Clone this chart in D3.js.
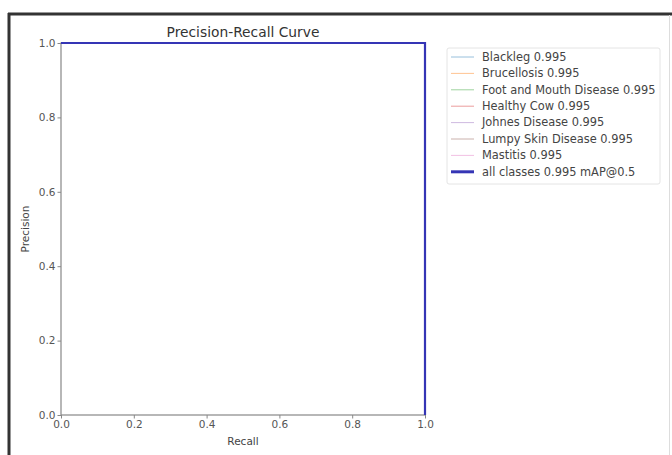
<!DOCTYPE html>
<html><head><meta charset="utf-8">
<script src="https://cdn.jsdelivr.net/npm/d3@7"></script>
<style>body{margin:0;background:#fff;} svg{display:block;font-family:"DejaVu Sans",sans-serif;} .tick text{font-size:10.5px;}</style>
</head><body>
<svg id="c" width="672" height="455"></svg>
<script>
const classes = ["Blackleg","Brucellosis","Foot and Mouth Disease","Healthy Cow","Johnes Disease","Lumpy Skin Disease","Mastitis"];
const classAP = [0.995,0.995,0.995,0.995,0.995,0.995,0.995];
const classColors = ["#1f77b4","#ff7f0e","#2ca02c","#d62728","#9467bd","#8c564b","#e377c2"];
const curveRecall = [0, 1, 1];
const curvePrecision = [1, 1, 0];
const mAP = 0.995;
const xTicks = [0,0.2,0.4,0.6,0.8,1.0];
const yTicks = [0,0.2,0.4,0.6,0.8,1.0];

const svg = d3.select("#c");
// outer frame
svg.append("line").attr("x1",8).attr("x2",672).attr("y1",14).attr("y2",14).attr("stroke","#333").attr("stroke-width",3);
svg.append("line").attr("x1",9).attr("x2",9).attr("y1",13).attr("y2",455).attr("stroke","#333").attr("stroke-width",3);
svg.append("line").attr("x1",669.5).attr("x2",669.5).attr("y1",15).attr("y2",455).attr("stroke","#ddd").attr("stroke-width",1);

const L=61,R=425,T=43,B=415;
const x = d3.scaleLinear().domain([0,1]).range([L,R]);
const y = d3.scaleLinear().domain([0,1]).range([B,T]);

const gx = svg.append("g").attr("transform",`translate(0,${B})`)
  .call(d3.axisBottom(x).tickValues(xTicks).tickFormat(d3.format(".1f")).tickSize(3.5).tickPadding(2));
const gy = svg.append("g").attr("transform",`translate(${L},0)`)
  .call(d3.axisLeft(y).tickValues(yTicks).tickFormat(d3.format(".1f")).tickSize(3.5).tickPadding(2));
[gx,gy].forEach(g=>{
  g.attr("font-size",10.5).attr("font-family","DejaVu Sans");
  g.select(".domain").remove();
  g.selectAll("line").attr("stroke","#888");
  g.selectAll("text").attr("fill","#555");
});
// spines
svg.append("rect").attr("x",L).attr("y",T).attr("width",R-L).attr("height",B-T)
  .attr("fill","none").attr("stroke","#888").attr("stroke-width",1.2);

const pts = curveRecall.map((r,i)=>[r,curvePrecision[i]]);
const line = d3.line().x(d=>x(d[0])).y(d=>y(d[1]));
classes.forEach((c,i)=>{
  svg.append("path").attr("d",line(pts)).attr("fill","none").attr("stroke",classColors[i]).attr("stroke-width",1).attr("opacity",0.4);
});
svg.append("path").attr("d",line(pts)).attr("fill","none").attr("stroke","#3535b5").attr("stroke-width",2.2);

svg.append("text").attr("x",(L+R)/2).attr("y",37).attr("text-anchor","middle").attr("fill","#333").style("font-size","13.8px").text("Precision-Recall Curve");
svg.append("text").attr("x",(L+R)/2).attr("y",445).attr("text-anchor","middle").attr("fill","#444").style("font-size","10.5px").text("Recall");
svg.append("text").attr("transform",`translate(29,${(T+B)/2}) rotate(-90)`).attr("text-anchor","middle").attr("fill","#444").style("font-size","10.5px").text("Precision");

// legend
const lg = svg.append("g");
lg.append("rect").attr("x",447).attr("y",48).attr("width",213).attr("height",136).attr("rx",2)
  .attr("fill","#fff").attr("stroke","#e4e4e4");
const rows = classes.map((c,i)=>({label:`${c} ${classAP[i].toFixed(3)}`,color:classColors[i],w:1,o:0.45}));
rows.push({label:`all classes ${mAP.toFixed(3)} mAP@0.5`,color:"#3535b5",w:3,o:1});
rows.forEach((r,i)=>{
  const yy = 57 + i*16.4;
  lg.append("line").attr("x1",451).attr("x2",474).attr("y1",yy).attr("y2",yy).attr("stroke",r.color).attr("stroke-width",r.w).attr("opacity",r.o);
  lg.append("text").attr("x",482).attr("y",yy+3.8).attr("fill","#444").style("font-size","11.4px").text(r.label);
});
</script>
</body></html>
